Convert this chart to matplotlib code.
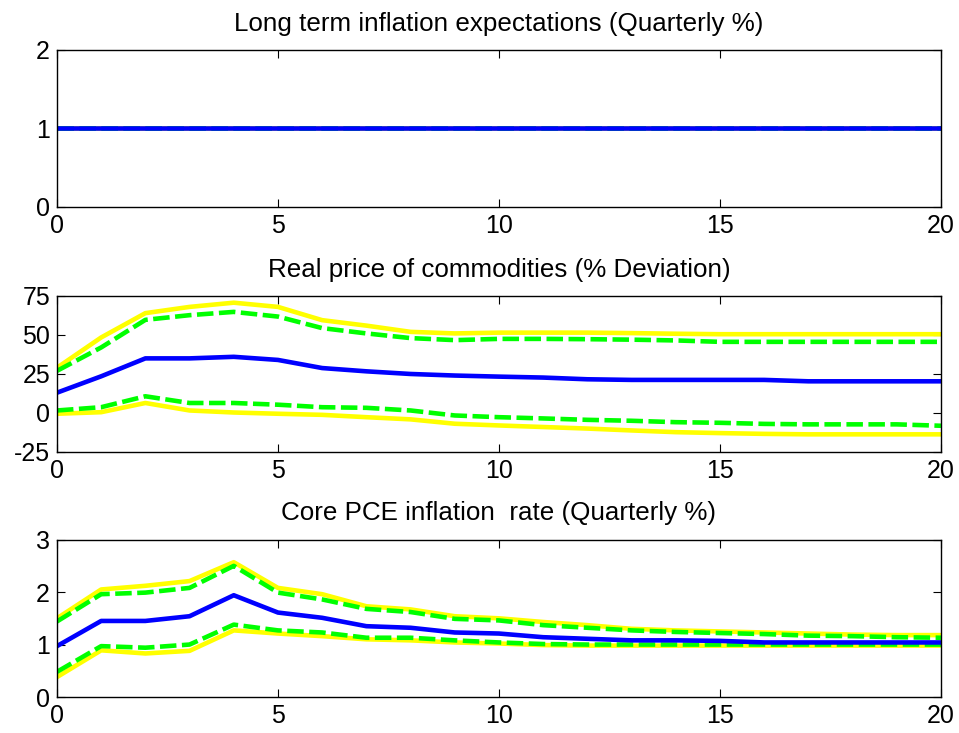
import matplotlib
matplotlib.use('Agg')
import matplotlib.pyplot as plt

plt.rcParams['font.family'] = ['Liberation Sans', 'DejaVu Sans']
plt.rcParams['axes.unicode_minus'] = False

quarters = list(range(21))

# Long term inflation expectations (flat)
lt_med = [1.0, 1.0, 1.0, 1.0, 1.0, 1.0, 1.0, 1.0, 1.0, 1.0, 1.0,
          1.0, 1.0, 1.0, 1.0, 1.0, 1.0, 1.0, 1.0, 1.0, 1.0]
lt_lo68 = [1.0, 1.0, 1.0, 1.0, 1.0, 1.0, 1.0, 1.0, 1.0, 1.0, 1.0,
           1.0, 1.0, 1.0, 1.0, 1.0, 1.0, 1.0, 1.0, 1.0, 1.0]
lt_hi68 = [1.0, 1.0, 1.0, 1.0, 1.0, 1.0, 1.0, 1.0, 1.0, 1.0, 1.0,
           1.0, 1.0, 1.0, 1.0, 1.0, 1.0, 1.0, 1.0, 1.0, 1.0]
lt_lo90 = [1.0, 1.0, 1.0, 1.0, 1.0, 1.0, 1.0, 1.0, 1.0, 1.0, 1.0,
           1.0, 1.0, 1.0, 1.0, 1.0, 1.0, 1.0, 1.0, 1.0, 1.0]
lt_hi90 = [1.0, 1.0, 1.0, 1.0, 1.0, 1.0, 1.0, 1.0, 1.0, 1.0, 1.0,
           1.0, 1.0, 1.0, 1.0, 1.0, 1.0, 1.0, 1.0, 1.0, 1.0]

# Real price of commodities
com_med = [13, 23.5, 35, 35, 36, 34, 28.8, 26.7, 25, 24, 23.3,
           22.7, 21.6, 21.2, 21.2, 21.2, 21.2, 20.3, 20.3, 20.3, 20.3]
com_hi68 = [27, 42, 59.7, 62.7, 64.8, 61.8, 54.4, 51, 48, 46.7, 47.5,
            47.5, 47.3, 47, 46.5, 45.6, 45.6, 45.6, 45.6, 45.6, 45.6]
com_lo68 = [1.6, 3.7, 10.7, 6.4, 6.4, 5.3, 3.7, 3.3, 1.6, -1.6, -2.7,
            -3.5, -4.4, -5, -5.9, -6.3, -7, -7.3, -7.3, -7.3, -8.2]
com_hi90 = [29, 48.4, 64, 68, 70.7, 68, 59.5, 56, 52, 51, 51.5,
            51.5, 51.5, 51.2, 50.8, 50.5, 50.5, 50.5, 50.5, 50.5, 50.5]
com_lo90 = [-0.5, 0.5, 6.4, 1.6, 0.3, -0.5, -1.2, -2.7, -4.1, -6.9, -8,
            -9, -10, -11.2, -12.3, -12.9, -13.4, -13.7, -13.7, -13.7, -13.7]

# Core PCE inflation rate
pce_med = [0.97, 1.45, 1.45, 1.54, 1.94, 1.61, 1.51, 1.35, 1.32, 1.23, 1.21,
           1.14, 1.11, 1.08, 1.08, 1.07, 1.04, 1.04, 1.04, 1.04, 1.04]
pce_hi68 = [1.44, 1.96, 1.99, 2.08, 2.5, 1.99, 1.86, 1.68, 1.62, 1.49, 1.46,
            1.37, 1.32, 1.27, 1.24, 1.22, 1.2, 1.17, 1.16, 1.14, 1.13]
pce_lo68 = [0.48, 0.97, 0.94, 1.0, 1.38, 1.27, 1.23, 1.13, 1.13, 1.08, 1.04,
            1.01, 1.0, 1.0, 1.0, 1.0, 1.0, 1.0, 1.0, 1.0, 1.0]
pce_hi90 = [1.5, 2.05, 2.12, 2.21, 2.57, 2.08, 1.96, 1.73, 1.67, 1.54, 1.5,
            1.43, 1.37, 1.3, 1.27, 1.25, 1.23, 1.21, 1.19, 1.18, 1.18]
pce_lo90 = [0.38, 0.89, 0.83, 0.88, 1.27, 1.21, 1.16, 1.1, 1.08, 1.04, 1.02,
            0.99, 0.98, 0.98, 0.98, 0.98, 0.98, 0.98, 0.98, 0.98, 0.98]

panels = [
    ('Long term inflation expectations (Quarterly %)',
     lt_med, lt_lo68, lt_hi68, lt_lo90, lt_hi90, (0, 2), [0, 1, 2]),
    ('Real price of commodities (% Deviation)',
     com_med, com_lo68, com_hi68, com_lo90, com_hi90, (-25, 75), [-25, 0, 25, 50, 75]),
    ('Core PCE inflation  rate (Quarterly %)',
     pce_med, pce_lo68, pce_hi68, pce_lo90, pce_hi90, (0, 3), [0, 1, 2, 3]),
]

fig = plt.figure(figsize=(9.59, 7.33), dpi=100)
positions = [[0.0594, 0.7176, 0.9218, 0.2142],
             [0.0594, 0.3834, 0.9218, 0.2128],
             [0.0594, 0.0491, 0.9218, 0.2147]]

for pos, (title, med, lo68, hi68, lo90, hi90, ylim, yticks) in zip(positions, panels):
    ax = fig.add_axes(pos)
    ax.plot(quarters, hi90, color='#ffff00', lw=3.3, solid_joinstyle='round')
    ax.plot(quarters, lo90, color='#ffff00', lw=3.3, solid_joinstyle='round')
    ax.plot(quarters, hi68, color='#00ff00', lw=3.3, dashes=(3.6, 1.2))
    ax.plot(quarters, lo68, color='#00ff00', lw=3.3, dashes=(3.6, 1.2))
    ax.plot(quarters, med, color='#0000ff', lw=3.3, solid_joinstyle='round')
    ax.set_xlim(0, 20)
    ax.set_ylim(*ylim)
    ax.set_xticks([0, 5, 10, 15, 20])
    ax.set_yticks(yticks)
    ax.tick_params(direction='in', top=True, right=True, length=6, width=0.8,
                   labelsize=18)
    ax.tick_params(axis='x', pad=5)
    ax.tick_params(axis='y', pad=5)
    for s in ax.spines.values():
        s.set_linewidth(1.0)
    ax.set_title(title, fontsize=18.7, pad=14)

fig.savefig('out.png', dpi=100)
